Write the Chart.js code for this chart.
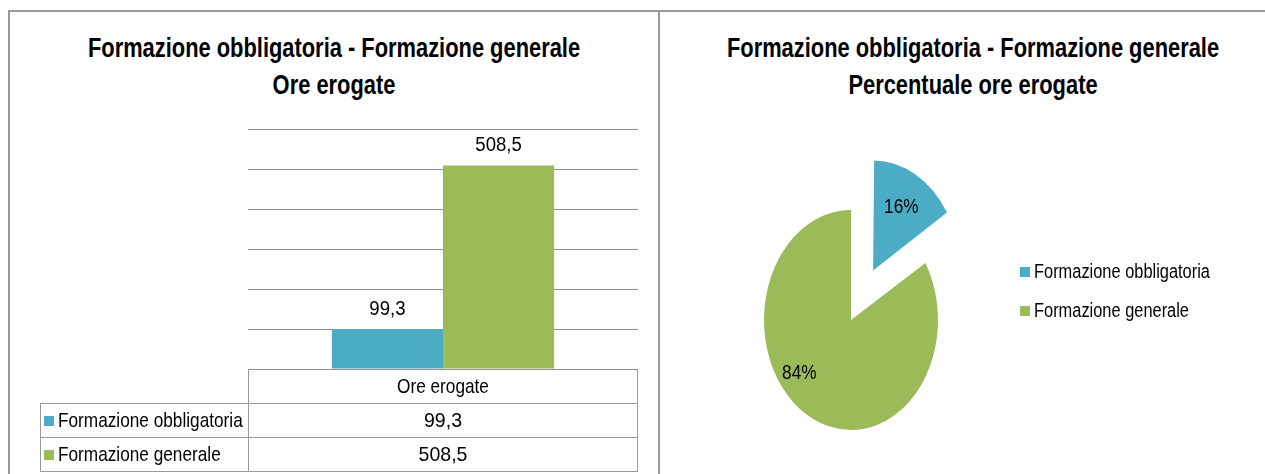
<!DOCTYPE html>
<html>
<head>
<meta charset="utf-8">
<script src="https://cdn.jsdelivr.net/npm/chart.js@4"></script>
<style>
  html, body { margin: 0; padding: 0; background: #fff; }
  body { width: 1265px; height: 474px; position: relative; overflow: hidden;
         font-family: 'Liberation Sans', Arial, sans-serif; }
  .line { position: absolute; background: #9a9a9a; }
  .title { position: absolute; text-align: center; font-weight: bold; font-size: 27px;
           line-height: 37px; color: #000; white-space: nowrap;
           transform: scaleX(0.81); transform-origin: 50% 50%; }
  canvas { position: absolute; }
</style>
</head>
<body>
<div class="line" style="left:8px;top:10px;width:1257px;height:2px;"></div>
<div class="line" style="left:8px;top:10px;width:2px;height:464px;"></div>
<div class="line" style="left:658px;top:10px;width:2px;height:464px;"></div>

<div class="title" style="left:10px;top:30px;width:648px;">Formazione obbligatoria - Formazione generale<br>Ore erogate</div>
<div class="title" style="left:623px;top:30px;width:700px;">Formazione obbligatoria - Formazione generale<br>Percentuale ore erogate</div>

<canvas id="bar" width="648" height="462" style="left:10px;top:12px;"></canvas>
<canvas id="pie" width="604" height="461" style="left:661px;top:13px;"></canvas>

<script>
// ---- data ----
const categories = ['Ore erogate'];
const seriesNames = ['Formazione obbligatoria', 'Formazione generale'];
const oreObbligatoria = [99.3];
const oreGenerale = [508.5];
const yTickMin = 0, yTickMax = 600, yTickStep = 100;
const seriesColors = ['#4BACC6', '#9BBB59'];

const FONT = "'Liberation Sans', Arial, sans-serif";
const fmt = v => String(v).replace('.', ',');
const SX_WORD = 0.82, SX_NUM = 0.93, SX_PCT = 0.86;

// draw horizontally condensed text (reference uses a narrow font)
function txt(ctx, s, x, y, align, sx) {
  ctx.save();
  ctx.translate(x, y);
  ctx.scale(sx, 1);
  ctx.textAlign = align;
  ctx.fillText(s, 0, 0);
  ctx.restore();
}

// ---- bar chart with data table ----
const barValuesPlugin = {
  id: 'barValues',
  afterDatasetsDraw(chart) {
    const ctx = chart.ctx;
    ctx.save();
    ctx.font = '20px ' + FONT;
    ctx.fillStyle = '#000';
    ctx.textBaseline = 'middle';
    chart.data.datasets.forEach((ds, i) => {
      chart.getDatasetMeta(i).data.forEach((bar, j) => {
        txt(ctx, fmt(ds.data[j]), bar.x, bar.y - 20, 'center', SX_NUM);
      });
    });
    ctx.restore();
  }
};

const tablePlugin = {
  id: 'dataTable',
  afterDraw(chart) {
    const ctx = chart.ctx;
    const a = chart.chartArea;
    const x0 = 30, rowH = 34;
    const y0 = a.bottom;
    ctx.save();
    ctx.strokeStyle = '#9a9a9a';
    ctx.lineWidth = 1;
    ctx.beginPath();
    ctx.moveTo(a.left + 0.5, y0); ctx.lineTo(a.left + 0.5, y0 + rowH * 3);
    ctx.moveTo(a.right - 0.5, y0); ctx.lineTo(a.right - 0.5, y0 + rowH * 3);
    for (let r = 1; r <= 3; r++) {
      ctx.moveTo(x0, y0 + rowH * r + 0.5); ctx.lineTo(a.right, y0 + rowH * r + 0.5);
    }
    ctx.moveTo(x0 + 0.5, y0 + rowH); ctx.lineTo(x0 + 0.5, y0 + rowH * 3);
    ctx.stroke();

    ctx.font = '21px ' + FONT;
    ctx.fillStyle = '#000';
    ctx.textBaseline = 'middle';
    const cx = (a.left + a.right) / 2;
    txt(ctx, chart.data.labels[0], cx, y0 + rowH / 2 + 1, 'center', SX_WORD);
    chart.data.datasets.forEach((ds, i) => {
      const yc = y0 + rowH * (i + 1) + rowH / 2 + 1;
      ctx.fillStyle = ds.backgroundColor;
      ctx.fillRect(x0 + 4, yc - 5, 10, 10);
      ctx.fillStyle = '#000';
      txt(ctx, ds.label, x0 + 18, yc, 'left', SX_WORD);
      txt(ctx, fmt(ds.data[0]), cx, yc, 'center', SX_NUM);
    });
    ctx.restore();
  }
};

new Chart(document.getElementById('bar'), {
  type: 'bar',
  data: {
    labels: categories,
    datasets: [
      { label: seriesNames[0], data: oreObbligatoria, backgroundColor: seriesColors[0] },
      { label: seriesNames[1], data: oreGenerale, backgroundColor: seriesColors[1] }
    ]
  },
  options: {
    responsive: false,
    animation: false,
    devicePixelRatio: 1,
    layout: { padding: { left: 238, right: 20, top: 117, bottom: 105 } },
    datasets: { bar: { barPercentage: 1, categoryPercentage: 0.57 } },
    plugins: { legend: { display: false }, title: { display: false }, tooltip: { enabled: false } },
    scales: {
      x: { display: false },
      y: {
        min: yTickMin, max: yTickMax,
        ticks: { display: false, stepSize: yTickStep },
        grid: { color: '#8f8f8f', lineWidth: 1, drawTicks: false },
        border: { display: false }
      }
    }
  },
  plugins: [barValuesPlugin, tablePlugin]
});

// ---- pie chart ----
const pieStretchY = 1.264;           // picture is stretched vertically
const pieOffsets = [180, 0];         // Chart.js moves a slice by offset/4
const pieLabelAngle = [0.5, 0.57];   // position along slice
const pieLabelRadius = [0.66, 0.77]; // fraction of radius

const ellipsePlugin = {
  id: 'ellipse',
  beforeDatasetsDraw(chart) {
    const arcs = chart.getDatasetMeta(0).data;
    // keep exploded slices at the same radius as the rest
    arcs.forEach(arc => {
      arc._r0 = arc.outerRadius;
      const off = (arc.options.offset || 0) / 4;
      const fix = 1 - Math.sin(Math.min(Math.PI, arc.circumference));
      arc.outerRadius = arc._r0 - off * fix;
    });
    const c = arcs[0];
    const ctx = chart.ctx;
    ctx.save();
    ctx.translate(c.x, c.y);
    ctx.scale(1, pieStretchY);
    ctx.translate(-c.x, -c.y);
  },
  afterDatasetsDraw(chart) {
    const ctx = chart.ctx;
    ctx.restore();
    const arcs = chart.getDatasetMeta(0).data;
    arcs.forEach(arc => { arc.outerRadius = arc._r0; });
    const ds = chart.data.datasets[0];
    const total = ds.data.reduce((s, v) => s + v, 0);
    ctx.save();
    ctx.font = '20px ' + FONT;
    ctx.fillStyle = '#000';
    ctx.textBaseline = 'middle';
    arcs.forEach((arc, i) => {
      const half = (arc.startAngle + arc.endAngle) / 2;
      const off = (arc.options.offset || 0) / 4;
      const bx = arc.x + Math.cos(half) * off;
      const by = arc.y + Math.sin(half) * off;
      const a = arc.startAngle + (arc.endAngle - arc.startAngle) * pieLabelAngle[i];
      const r = arc.outerRadius * pieLabelRadius[i];
      const px = bx + Math.cos(a) * r;
      const py = arc.y + (by + Math.sin(a) * r - arc.y) * pieStretchY;
      txt(ctx, Math.round(ds.data[i] / total * 100) + '%', px, py, 'center', SX_PCT);
    });
    // legend
    const lx = 359, ly = [259, 298];
    chart.data.labels.forEach((lab, i) => {
      ctx.fillStyle = ds.backgroundColor[i];
      ctx.fillRect(lx, ly[i] - 5, 10, 10);
      ctx.fillStyle = '#000';
      txt(ctx, lab, lx + 14, ly[i], 'left', SX_WORD);
    });
    ctx.restore();
  }
};

new Chart(document.getElementById('pie'), {
  type: 'pie',
  data: {
    labels: seriesNames,
    datasets: [{
      data: [oreObbligatoria[0], oreGenerale[0]],
      backgroundColor: seriesColors,
      borderWidth: 0,
      offset: pieOffsets,
      radius: 87
    }]
  },
  options: {
    responsive: false,
    animation: false,
    devicePixelRatio: 1,
    layout: { padding: { left: 0, right: 224, top: 153, bottom: 0 } },
    plugins: { legend: { display: false }, title: { display: false }, tooltip: { enabled: false } }
  },
  plugins: [ellipsePlugin]
});
</script>
</body>
</html>
